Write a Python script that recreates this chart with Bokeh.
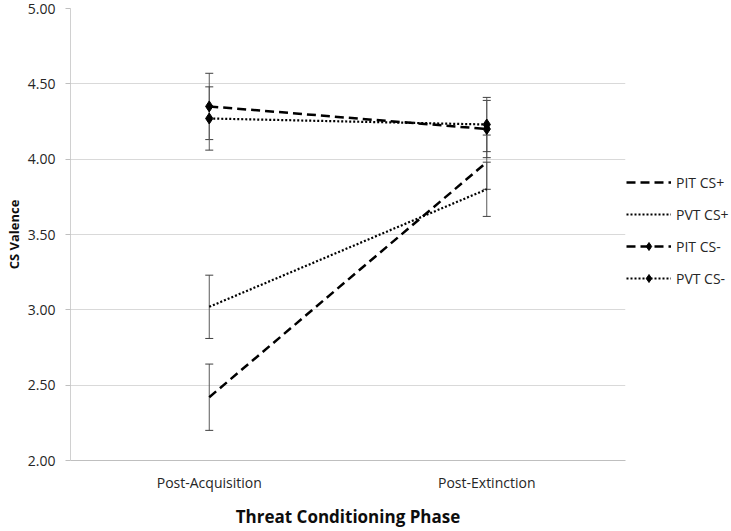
from bokeh.plotting import figure
from bokeh.layouts import row
from bokeh.models import (ColumnDataSource, Whisker, TeeHead, Legend, LegendItem,
                          FactorRange, NumeralTickFormatter, FixedTicker)
from bokeh.embed import file_html
from bokeh.resources import INLINE

# ---- data ----
phases = ["Post-Acquisition", "Post-Extinction"]
pit_cs_plus = [2.42, 3.98]
pit_cs_plus_err = [0.22, 0.18]
pvt_cs_plus = [3.02, 3.80]
pvt_cs_plus_err = [0.21, 0.18]
pit_cs_minus = [4.35, 4.20]
pit_cs_minus_err = [0.22, 0.19]
pvt_cs_minus = [4.27, 4.23]
pvt_cs_minus_err = [0.21, 0.18]
y_ticks = [2.0, 2.5, 3.0, 3.5, 4.0, 4.5, 5.0]
series_names = ["PIT CS+", "PVT CS+", "PIT CS-", "PVT CS-"]

FONT = "Open Sans"
H = 530

p = figure(x_range=FactorRange(*phases), y_range=(2.0, 5.0),
           width=626, height=H, output_backend="svg", toolbar_location=None,
           min_border_left=70, min_border_right=1, min_border_top=8, min_border_bottom=0)
p.outline_line_color = None
p.xgrid.grid_line_color = None
p.ygrid.grid_line_color = "#d9d9d9"
p.ygrid.grid_line_width = 1

p.yaxis.ticker = FixedTicker(ticks=y_ticks)
p.yaxis.formatter = NumeralTickFormatter(format="0.00")
p.yaxis.minor_tick_line_color = None
p.yaxis.major_tick_out = 5
p.yaxis.major_tick_in = 0
p.yaxis.major_tick_line_color = "#bfbfbf"
p.yaxis.axis_line_color = "#d0d0d0"
p.yaxis.major_label_standoff = 10
p.yaxis.axis_label = "CS Valence"
p.yaxis.axis_label_standoff = 2

p.xaxis.major_tick_line_color = None
p.xaxis.major_tick_out = 0
p.xaxis.major_tick_in = 0
p.xaxis.axis_line_color = "#bfbfbf"
p.xaxis.major_label_standoff = 12
p.xaxis.axis_label = "Threat Conditioning Phase"
p.xaxis.axis_label_standoff = 10

for ax in (p.xaxis, p.yaxis):
    ax.major_label_text_font = FONT
    ax.major_label_text_font_size = "14px"
    ax.major_label_text_color = "#262626"
    ax.axis_label_text_font = FONT
    ax.axis_label_text_font_style = "bold"
    ax.axis_label_text_color = "#0d0d0d"
p.xaxis.axis_label_text_font_size = "17px"
p.yaxis.axis_label_text_font_size = "13px"

values = [pit_cs_plus, pvt_cs_plus, pit_cs_minus, pvt_cs_minus]
errors = [pit_cs_plus_err, pvt_cs_plus_err, pit_cs_minus_err, pvt_cs_minus_err]
dashes = ["9 5", "2 2", "9 5", "2 2"]
widths = [2.5, 2.2, 2.5, 2.2]
has_markers = [False, False, True, True]

for vals, errs, dash, lw, mk in zip(values, errors, dashes, widths, has_markers):
    src = ColumnDataSource(dict(
        x=phases, y=vals,
        upper=[v + e for v, e in zip(vals, errs)],
        lower=[v - e for v, e in zip(vals, errs)],
    ))
    w = Whisker(base="x", upper="upper", lower="lower", source=src,
                line_color="#595959", line_width=1,
                upper_head=TeeHead(size=8, line_color="#404040", line_width=1),
                lower_head=TeeHead(size=8, line_color="#404040", line_width=1))
    p.add_layout(w)
    p.line("x", "y", source=src, line_color="black", line_width=lw, line_dash=dash)
    if mk:
        p.scatter("x", "y", source=src, marker="diamond", size=11,
                  fill_color="black", line_color="black")

# ---- legend panel (separate narrow figure to the right) ----
lg = figure(width=104, height=H, output_backend="svg", toolbar_location=None,
            x_range=(0, 1), y_range=(0, 1), min_border=0)
lg.axis.visible = False
lg.grid.visible = False
lg.outline_line_color = None

nan = float("nan")
items = []
for name, dash, lw, mk in zip(series_names, dashes, widths, has_markers):
    proxy = ColumnDataSource(dict(x=[nan], y=[nan]))  # legend proxy, draws nothing
    rends = [lg.line("x", "y", source=proxy, line_color="black", line_width=lw, line_dash=dash)]
    if mk:
        rends.append(lg.scatter("x", "y", source=proxy, marker="diamond", size=11,
                                fill_color="black", line_color="black"))
    items.append(LegendItem(label=name, renderers=rends))

legend = Legend(items=items, location=(0, 172), orientation="vertical",
                border_line_color=None, background_fill_alpha=0,
                glyph_width=45, glyph_height=20, label_height=20, spacing=12,
                label_standoff=5, padding=0, margin=0,
                label_text_font=FONT, label_text_font_size="14px",
                label_text_color="#262626")
lg.add_layout(legend, "center")

layout = row(p, lg)
open("out.html", "w").write(file_html(layout, INLINE))
